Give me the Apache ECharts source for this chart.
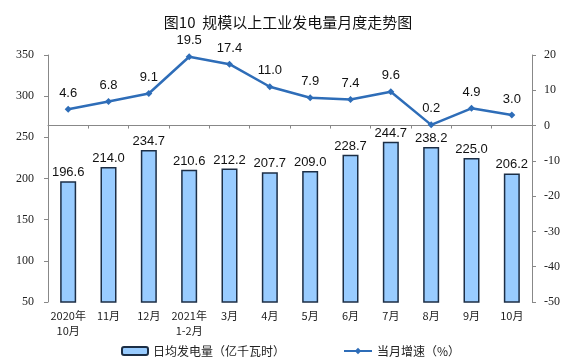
<!DOCTYPE html>
<html><head><meta charset="utf-8">
<script src="https://cdn.jsdelivr.net/npm/echarts@6/dist/echarts.min.js"></script>
<style>html,body{margin:0;padding:0;background:#fff}#c{width:576px;height:362px}</style>
</head><body><div id="c"></div>
<script>
const categories = ['2020年\n10月','11月','12月','2021年\n1-2月','3月','4月','5月','6月','7月','8月','9月','10月'];
const dailyOutput = [196.6,214.0,234.7,210.6,212.2,207.7,209.0,228.7,244.7,238.2,225.0,206.2];
const growthRate = [4.6,6.8,9.1,19.5,17.4,11.0,7.9,7.4,9.6,0.2,4.9,3.0];
const leftTicks = {min:50,max:350,interval:50};
const rightTicks = {min:-50,max:20,interval:10};

const chart = echarts.init(document.getElementById('c'));
const axisFont = {fontFamily:'Liberation Serif',fontSize:12,color:'#222'};
chart.setOption({
  animation:false,
  title:{text:'图10  规模以上工业发电量月度走势图',left:'center',top:10,
    textStyle:{fontFamily:'Noto Sans CJK SC',fontSize:15,fontWeight:'normal',color:'#111'}},
  grid:{left:48,right:44,top:55,bottom:60},
  legend:[
    {data:['日均发电量（亿千瓦时）'],left:116,top:340,itemWidth:26,itemHeight:8,
     textStyle:{fontFamily:'Noto Sans CJK SC',fontSize:12,color:'#222'}},
    {data:['当月增速（%）'],left:338,top:340,itemWidth:28,itemHeight:8,
     textStyle:{fontFamily:'Noto Sans CJK SC',fontSize:12,color:'#222'}}
  ],
  xAxis:{type:'category',data:categories,boundaryGap:true,
    axisLine:{lineStyle:{color:'#888'}},axisTick:{show:true,length:3,lineStyle:{color:'#888'}},
    axisLabel:{fontFamily:'Noto Sans CJK SC',fontSize:11,color:'#222',interval:0,margin:6,lineHeight:15}},
  yAxis:[
    {type:'value',min:leftTicks.min,max:leftTicks.max,interval:leftTicks.interval,
     axisLine:{show:true,lineStyle:{color:'#888'}},axisTick:{show:true,length:4,lineStyle:{color:'#888'}},
     splitLine:{show:false},axisLabel:Object.assign({margin:14},axisFont)},
    {type:'value',min:rightTicks.min,max:rightTicks.max,interval:rightTicks.interval,
     axisLine:{show:true,lineStyle:{color:'#888'}},axisTick:{show:true,length:4,inside:false,lineStyle:{color:'#888'}},
     splitLine:{show:false},axisLabel:Object.assign({margin:12},axisFont)}
  ],
  series:[
    {name:'日均发电量（亿千瓦时）',type:'bar',data:dailyOutput,barWidth:16,
     itemStyle:{color:'#99CCFF',borderColor:'#1C2E45',borderWidth:1.5},
     label:{show:true,position:'top',distance:2,formatter:p=>p.value.toFixed(1),
       fontFamily:'Liberation Sans',fontSize:13,color:'#111'}},
    {name:'当月增速（%）',type:'line',yAxisIndex:1,data:growthRate,
     symbol:'diamond',symbolSize:7,
     lineStyle:{color:'#2E6DB8',width:2.5},itemStyle:{color:'#2E6DB8'},
     label:{show:true,position:'top',distance:6,formatter:p=>p.value.toFixed(1),
       fontFamily:'Liberation Sans',fontSize:13,color:'#111'}}
  ]
});
</script></body></html>
